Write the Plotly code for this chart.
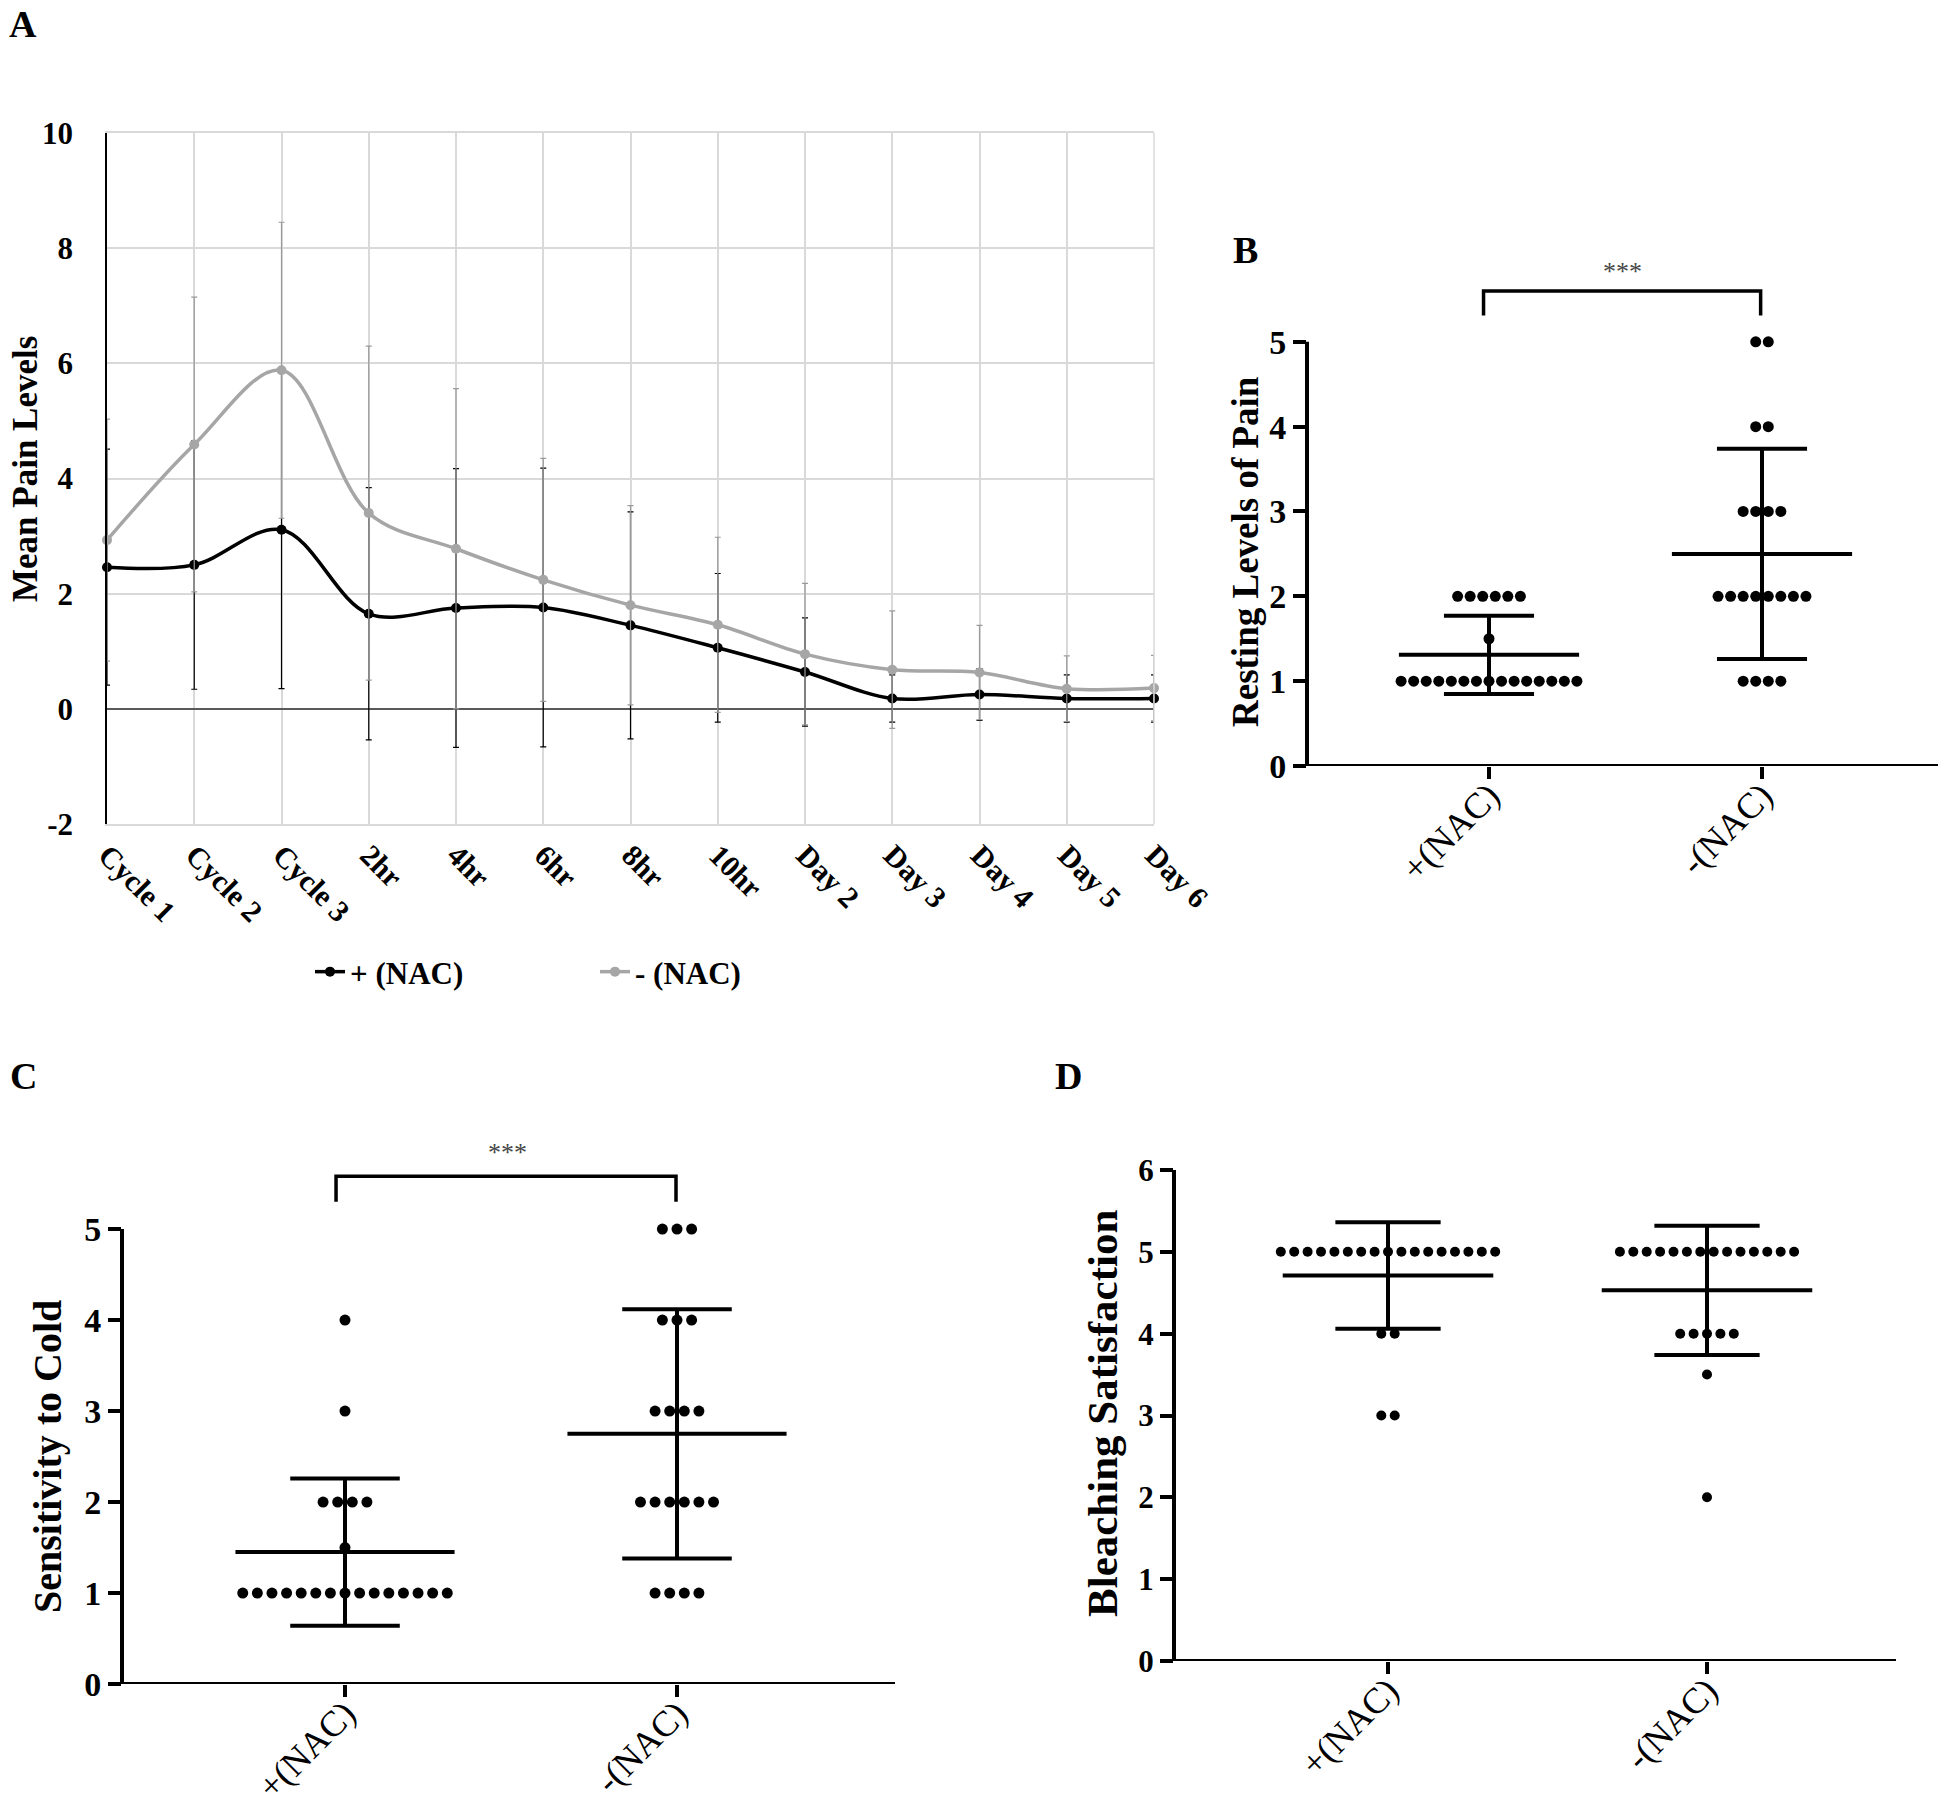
import plotly.graph_objects as go

W, H = 1946, 1799
OFF = 8  # page body margin offset
FONT = "Liberation Serif"

# ---------------- Panel A data ----------------
a_categories = ["Cycle 1", "Cycle 2", "Cycle 3", "2hr", "4hr", "6hr", "8hr", "10hr",
                "Day 2", "Day 3", "Day 4", "Day 5", "Day 6"]
a_plus_mean = [2.46, 2.50, 3.11, 1.65, 1.75, 1.76, 1.45, 1.06, 0.64, 0.18, 0.25, 0.18, 0.18]
a_plus_sd = [2.05, 2.16, 2.76, 2.19, 2.42, 2.42, 1.97, 1.29, 0.94, 0.41, 0.45, 0.41, 0.41]
a_minus_mean = [2.93, 4.59, 5.88, 3.40, 2.78, 2.24, 1.80, 1.46, 0.95, 0.68, 0.63, 0.35, 0.36]
a_minus_sd = [2.10, 2.56, 2.57, 2.90, 2.78, 2.11, 1.73, 1.52, 1.23, 1.02, 0.82, 0.57, 0.57]
a_series_names = ["+ (NAC)", "- (NAC)"]
a_yticks = [-2, 0, 2, 4, 6, 8, 10]
a_yticklabels = ["-2", "0", "2", "4", "6", "8", "10"]

# ---------------- Panels B, C, D data ----------------
groups = ["+(NAC)", "-(NAC)"]

b_plus_levels = [1, 1.5, 2]
b_plus_counts = [15, 1, 6]
b_minus_levels = [1, 2, 3, 4, 5]
b_minus_counts = [4, 8, 4, 2, 2]
b_mean = [1.31, 2.50]
b_sd = [0.46, 1.24]

c_plus_levels = [1, 1.5, 2, 3, 4]
c_plus_counts = [15, 1, 4, 1, 1]
c_minus_levels = [1, 2, 3, 4, 5]
c_minus_counts = [4, 6, 4, 3, 3]
c_mean = [1.45, 2.75]
c_sd = [0.81, 1.37]

d_plus_levels = [3, 4, 5]
d_plus_counts = [2, 2, 17]
d_minus_levels = [2, 3.5, 4, 5]
d_minus_counts = [1, 1, 5, 14]
d_mean = [4.71, 4.53]
d_sd = [0.65, 0.79]


def px(x):
    return (x - OFF) / W


def py(y):
    return 1 - (y - OFF) / H


fig = go.Figure()

# ---------------- Panel A traces ----------------
fig.add_trace(go.Scatter(
    x=a_categories, y=a_plus_mean, name=a_series_names[0], mode="lines+markers",
    line=dict(color="black", width=3.5, shape="spline", smoothing=1),
    marker=dict(size=10, color="black"),
    error_y=dict(type="data", array=a_plus_sd, color="black", thickness=1.2, width=3),
    xaxis="x", yaxis="y", cliponaxis=False))
fig.add_trace(go.Scatter(
    x=a_categories, y=a_minus_mean, name=a_series_names[1], mode="lines+markers",
    line=dict(color="#a6a6a6", width=3.5, shape="spline", smoothing=1),
    marker=dict(size=10, color="#a6a6a6"),
    error_y=dict(type="data", array=a_minus_sd, color="#9a9a9a", thickness=1.2, width=3),
    xaxis="x", yaxis="y", cliponaxis=False))


def add_dot_panel(ax, levels_list, counts_list, means, sds, dx, msize):
    xa, ya = "x" + ax, "y" + ax
    for g, (levels, counts) in enumerate(zip(levels_list, counts_list)):
        xs, ys = [], []
        for lv, n in zip(levels, counts):
            for i in range(n):
                xs.append(g + (i - (n - 1) / 2) * dx)
                ys.append(lv)
        fig.add_trace(go.Scatter(x=xs, y=ys, mode="markers",
                                 marker=dict(size=msize, color="black"),
                                 showlegend=False, xaxis=xa, yaxis=ya, cliponaxis=False))
        m, s = means[g], sds[g]
        line = dict(color="black", width=4)
        fig.add_trace(go.Scatter(x=[g - 0.33, g + 0.33], y=[m, m], mode="lines", line=line,
                                 showlegend=False, xaxis=xa, yaxis=ya))
        fig.add_trace(go.Scatter(x=[g, g], y=[m - s, m + s], mode="lines", line=line,
                                 showlegend=False, xaxis=xa, yaxis=ya))
        for yy in (m - s, m + s):
            fig.add_trace(go.Scatter(x=[g - 0.165, g + 0.165], y=[yy, yy], mode="lines",
                                     line=line, showlegend=False, xaxis=xa, yaxis=ya))


add_dot_panel("2", [b_plus_levels, b_minus_levels], [b_plus_counts, b_minus_counts],
              b_mean, b_sd, 0.046, 11)
add_dot_panel("3", [c_plus_levels, c_minus_levels], [c_plus_counts, c_minus_counts],
              c_mean, c_sd, 0.044, 11)
add_dot_panel("4", [d_plus_levels, d_minus_levels], [d_plus_counts, d_minus_counts],
              d_mean, d_sd, 0.042, 10)

bold = dict(family=FONT, color="black", weight="bold")


def dot_xaxis(yaxis_px, cat0_px, cat1_px, right_px, anchor, standoff):
    sp = cat1_px - cat0_px
    rng = [-(cat0_px - yaxis_px) / sp, (right_px - cat0_px) / sp]
    return dict(domain=[px(yaxis_px), px(right_px)], range=rng, anchor=anchor,
                tickvals=[0, 1], ticktext=groups, automargin=False,
                ticks="outside", ticklen=12, tickwidth=3.5, tickcolor="black",
                showline=False, showgrid=False, zeroline=False, tickangle=-45,
                ticklabelstandoff=standoff,
                tickfont=dict(family=FONT, size=36, color="black"))


def dot_yaxis(bottom_px, top_px, rng, anchor, tv, tsize):
    return dict(domain=[py(bottom_px), py(top_px)], range=rng, anchor=anchor, tickvals=tv,
                automargin=False,
                ticks="outside", ticklen=13, tickwidth=3.5, tickcolor="black",
                showline=False, showgrid=False, zeroline=False,
                tickfont=dict(size=tsize, **bold))


fig.update_layout(
    width=W, height=H, margin=dict(l=0, r=0, t=0, b=0, autoexpand=False),
    paper_bgcolor="white", plot_bgcolor="white",
    font=dict(family=FONT, color="black"),
    xaxis=dict(domain=[px(107), px(1154)], anchor="y", type="category", automargin=False,
               categoryorder="array", categoryarray=a_categories, range=[0, 12],
               showgrid=True, gridcolor="#d9d9d9", gridwidth=1.5,
               showline=True, linecolor="#d9d9d9", linewidth=1.5, mirror=True,
               ticks="", tickangle=45, tickfont=dict(size=30, **bold)),
    yaxis=dict(domain=[py(824), py(133)], anchor="x", range=[-2, 10],
               tickvals=a_yticks, ticktext=a_yticklabels,
               automargin=False,
               showgrid=True, gridcolor="#d9d9d9", gridwidth=1.5,
               zeroline=True, zerolinecolor="#595959", zerolinewidth=1.5,
               showline=True, linecolor="black", linewidth=1.5, ticks="",
               ticklabelstandoff=26, tickfont=dict(size=31, **bold)),
    xaxis2=dot_xaxis(1307, 1489, 1762, 1946, "y2", -19),
    yaxis2=dot_yaxis(766, 240, [0, 6.2], "x2", [0, 1, 2, 3, 4, 5], 34),
    xaxis3=dot_xaxis(122, 345, 677, 895, "y3", -19),
    yaxis3=dot_yaxis(1684, 1129, [0, 6.1], "x3", [0, 1, 2, 3, 4, 5], 34),
    xaxis4=dot_xaxis(1174, 1388, 1707, 1896, "y4", -19),
    yaxis4=dot_yaxis(1661, 1170, [0, 6], "x4", [0, 1, 2, 3, 4, 5, 6], 31),
    legend=dict(orientation="h", x=px(310), y=py(945), xanchor="left", yanchor="top",
                font=dict(size=31, **bold), entrywidth=240, entrywidthmode="pixels",
                itemwidth=30, bgcolor="rgba(0,0,0,0)"),
    showlegend=True,
)

shapes = []
# Panel A right border
shapes.append(dict(type="line", xref="x domain", yref="y domain", x0=1, x1=1, y0=0, y1=1,
                   line=dict(color="#d9d9d9", width=1.5)))
# Dot panel axis lines and brackets
for ax, xstart, xend, ytop in (("2", 1297, 1946, 5), ("3", 110, 895, 5), ("4", 1161, 1896, 6)):
    shapes.append(dict(type="line", xref="paper", yref="y" + ax, x0=px(xstart), x1=px(xend),
                       y0=0, y1=0, line=dict(color="black", width=4)))
    shapes.append(dict(type="line", xref="x" + ax + " domain", yref="y" + ax, x0=0, x1=0,
                       y0=0, y1=ytop, line=dict(color="black", width=4)))
for ax, xl, xr, top, leg in (("2", -0.02, 0.995, 5.60, 5.31), ("3", -0.027, 0.997, 5.58, 5.30)):
    shapes.append(dict(type="path", xref="x" + ax, yref="y" + ax,
                       path=f"M {xl},{leg} L {xl},{top} L {xr},{top} L {xr},{leg}",
                       line=dict(color="black", width=3.5)))
fig.update_layout(shapes=shapes)

annotations = [
    dict(text="***", x=0.49, y=5.83, xref="x2", yref="y2", showarrow=False,
         font=dict(family=FONT, size=26, color="#444")),
    dict(text="***", x=0.49, y=5.84, xref="x3", yref="y3", showarrow=False,
         font=dict(family=FONT, size=26, color="#444")),
]
# panel letters
for lab, x, y in (("A", 23, 24), ("B", 1245, 250), ("C", 23, 1076), ("D", 1068, 1076)):
    annotations.append(dict(text=lab, x=px(x), y=py(y), xref="paper", yref="paper",
                            showarrow=False, xanchor="center", yanchor="middle",
                            font=dict(size=38, **bold)))
# y-axis titles
for txt, x, y, size in (("Mean Pain Levels", 26, 469, 35),
                        ("Resting Levels of Pain", 1245, 552, 37),
                        ("Sensitivity to Cold", 47, 1457, 40),
                        ("Bleaching Satisfaction", 1102, 1414, 43)):
    annotations.append(dict(text=txt, x=px(x), y=py(y), xref="paper", yref="paper",
                            showarrow=False, xanchor="center", yanchor="middle",
                            textangle=-90, font=dict(size=size, **bold)))
fig.update_layout(annotations=annotations)

fig.write_html("out.html")
